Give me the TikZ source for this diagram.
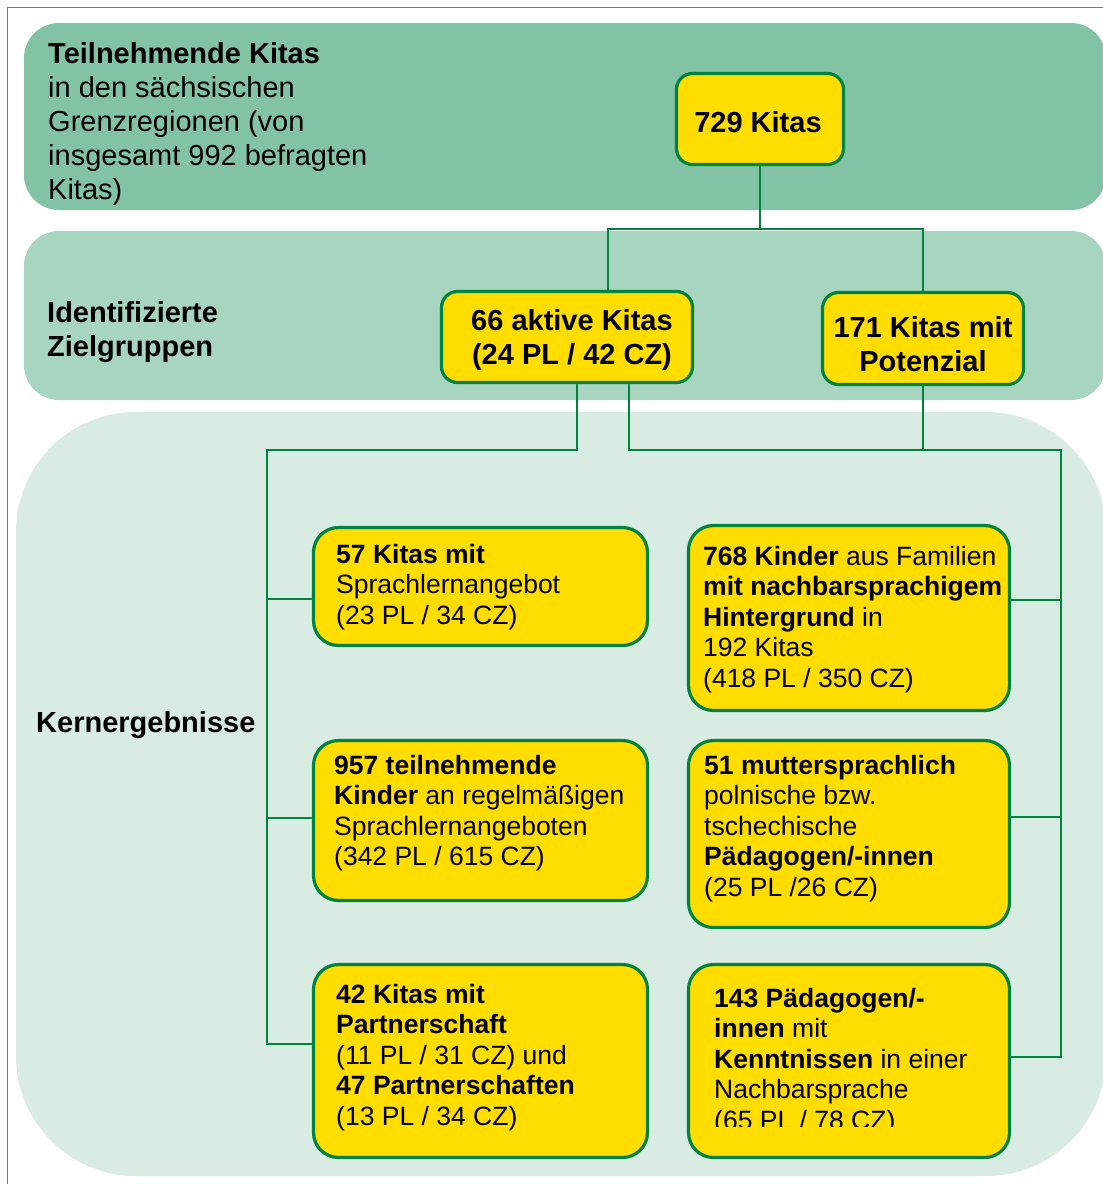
\documentclass[tikz,border=0pt]{standalone}
\usepackage{fontspec}
\setmainfont{Liberation Sans}
\usetikzlibrary{positioning}
\definecolor{kitagreen}{RGB}{0,132,61}
\definecolor{bandA}{RGB}{130,195,165}
\definecolor{bandB}{RGB}{168,213,191}
\definecolor{bandC}{RGB}{217,236,227}
\definecolor{kitayellow}{RGB}{255,221,0}
\newcommand\bigtxt{\fontsize{29}{34}\selectfont}
\newcommand\smalltxt{\fontsize{26.5}{30.5}\selectfont}
\tikzset{
	kbox/.style={draw=kitagreen, fill=kitayellow, line width=3.2pt, rounded corners=16pt, inner sep=0pt},
	kbigbox/.style={kbox, rounded corners=25pt},
	ktext/.style={font=\smalltxt, align=left, inner sep=0pt, anchor=north west},
	btext/.style={font=\bigtxt, inner sep=0pt},
	link/.style={draw=kitagreen, line width=2.2pt},
	frameline/.style={draw=kitagreen!80, line width=1pt}
}

\begin{document}
\begin{tikzpicture}[x=1pt,y=-1pt]
	\useasboundingbox (0,0) rectangle (1103,1184);
	% background bands
	\fill[bandA, rounded corners=35pt] (24,23) rectangle (1106,210);
	\fill[bandB, rounded corners=35pt] (24,231) rectangle (1106,400);
	\fill[bandC, rounded corners=120pt] (16,412) rectangle (1106,1176);
	\draw[frameline] (7,1184) -- (7,7) -- (1103,7);

	\node[btext, align=left, anchor=north west] (titleA) at (48,39.2) {\strut\textbf{Teilnehmende Kitas}\\in den sächsischen\\Grenzregionen (von\\insgesamt 992 befragten\\Kitas)};
	\node[btext, align=left, anchor=north west] (titleB) at (47,298.2) {\strut\textbf{Identifizierte}\\\textbf{Zielgruppen}};
	\node[btext, anchor=base west] (titleC) at (36,732) {\textbf{Kernergebnisse}};

	\node[kbox, minimum width=167pt, minimum height=91pt] (b729) at (760,119) {};
	\node[kbox, minimum width=251pt, minimum height=91pt] (b66) at (567,337) {};
	\node[kbox, minimum width=201pt, minimum height=92pt] (b171) at (923,338.5) {};
	\node[kbigbox, minimum width=334pt, minimum height=118pt] (b57) at (480.5,586.5) {};
	\node[kbigbox, minimum width=321pt, minimum height=185pt] (b768) at (849,618) {};
	\node[kbigbox, minimum width=334pt, minimum height=160pt] (b957) at (480.5,820.5) {};
	\node[kbigbox, minimum width=321pt, minimum height=187pt] (b51) at (849,834) {};
	\node[kbigbox, minimum width=334pt, minimum height=193pt] (b42) at (480.5,1061) {};
	\node[kbigbox, minimum width=321pt, minimum height=193pt] (b143) at (849,1061) {};

	\node[btext, anchor=base] (t729) at (758,132) {\textbf{729 Kitas}};
	\node[btext, align=center, anchor=north] (t66) at (572,306.2) {\strut\textbf{66 aktive Kitas}\\\textbf{(24 PL / 42 CZ)}};
	\node[btext, align=center, anchor=north] (t171) at (923,313.2) {\strut\textbf{171 Kitas mit}\\\textbf{Potenzial}};

	\node[ktext] (t57) at (336,541.6) {\strut\textbf{57 Kitas mit}\\Sprachlernangebot\\(23 PL / 34 CZ)};
	\node[ktext] (t768) at (703,543.6) {\strut\textbf{768 Kinder} aus Familien\\\textbf{mit nachbarsprachigem}\\\textbf{Hintergrund} in\\192 Kitas\\(418 PL / 350 CZ)};
	\node[ktext] (t957) at (334,752.6) {\strut\textbf{957 teilnehmende}\\\textbf{Kinder} an regelmäßigen\\Sprachlernangeboten\\(342 PL / 615 CZ)};
	\node[ktext] (t51) at (704,752.6) {\strut\textbf{51 muttersprachlich}\\polnische bzw.\\tschechische\\\textbf{Pädagogen/-innen}\\(25 PL /26 CZ)};
	\node[ktext] (t42) at (336,981.6) {\strut\textbf{42 Kitas mit}\\\textbf{Partnerschaft}\\(11 PL / 31 CZ) und\\\textbf{47 Partnerschaften}\\(13 PL / 34 CZ)};
	\begin{scope}
		\clip (700,970) rectangle (1005,1126);
		\node[ktext] (t143) at (714,985.6) {\strut\textbf{143 Pädagogen/-}\\\textbf{innen} mit\\\textbf{Kenntnissen} in einer\\Nachbarsprache\\(65 PL / 78 CZ)};
	\end{scope}

	% tree connectors
	\coordinate (fork) at (760,229);
	\coordinate (lbus) at (267,450);
	\coordinate (rbus) at (1061,450);
	\draw[link] (b729.south) -- (fork);
	\draw[link] ([xshift=41pt]b66.north) |- (fork) -| (b171.north);
	\draw[link] ([xshift=10pt]b66.south) |- (lbus) |- ([yshift=17pt]b42.west);
	\draw[link] (lbus |- 0,599) -- (b57.west |- 0,599);
	\draw[link] (lbus |- 0,818) -- (b957.west |- 0,818);
	\draw[link] ([xshift=62pt]b66.south) |- (rbus) |- ([yshift=4pt]b143.east);
	\draw[link] (b171.south) -- (b171.south |- rbus);
	\draw[link] (rbus |- 0,600) -- (b768.east |- 0,600);
	\draw[link] (rbus |- 0,817) -- (b51.east |- 0,817);
\end{tikzpicture}
\end{document}
